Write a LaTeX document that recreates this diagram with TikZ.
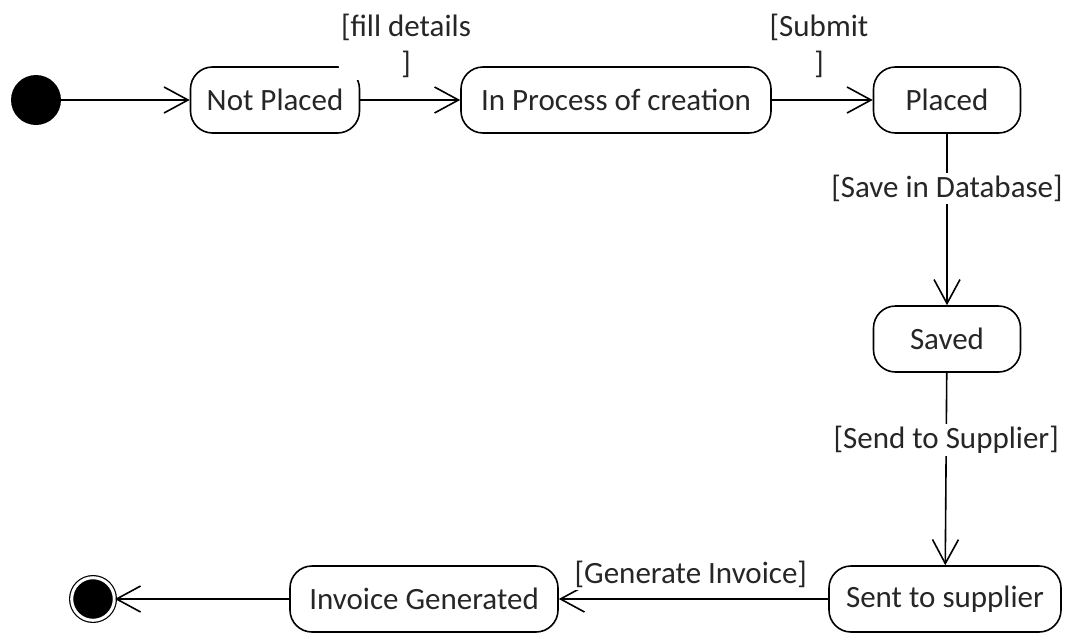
\documentclass[tikz,border=0pt]{standalone}
\usepackage{fontspec}
\setmainfont{Carlito}
\usetikzlibrary{positioning,arrows.meta}

\begin{document}
\begin{tikzpicture}[
        x=1pt, y=-1pt,
        node distance=240pt,
        state/.style={
            rectangle,
            draw=black,
            line width=1.6pt,
            fill=white,
            text=black!85,
            align=center,
            rounded corners=22pt,
            minimum height=66pt,
            font=\fontsize{31}{37}\selectfont
        },
        guard/.style={
            fill=white,
            text=black!85,
            inner sep=2pt,
            align=center,
            font=\fontsize{31}{37}\selectfont
        },
        arrow/.style={
            -{Straight Barb[length=24pt,width=26pt]},
            line width=1.6pt
        }
    ]
        \useasboundingbox (0,0) rectangle (1073,632);
        \node (init) [circle, fill=black, minimum size=50pt, inner sep=0pt] at (36,100) {};
        \node (notplaced) [state, minimum width=169pt, right of=init, node distance=239pt] {Not Placed};
        \node (filllbl) [guard] at (406,46) {[fill details\\]};
        \node (submitlbl) [guard] at (819,46) {[Submit\\]};
        \node (process) [state, minimum width=310pt, right of=notplaced, node distance=341pt] {In Process of creation};
        \node (placed) [state, minimum width=147pt, right of=process, node distance=331pt] {Placed};
        \node (saved) [state, minimum width=147pt, below of=placed, node distance=239pt] {Saved};
        \node (sent) [state, minimum width=232pt, below of=saved, node distance=260pt, xshift=-2pt] {Sent to supplier};
        \node (invoice) [state, minimum width=268pt, left of=sent, node distance=521pt] {Invoice Generated};
        \node (final) [circle, draw=black, line width=1.2pt, double=white, double distance=3pt,
                       fill=black, minimum size=42.6pt, inner sep=0pt, left of=invoice, node distance=331pt] {};

        \draw[arrow] (init) -- (notplaced);
        \draw[arrow] (notplaced) -- (process);
        \draw[arrow] (process) -- (placed);
        \draw[arrow] (placed) -- node[guard, pos=0.32] {[Save in Database]} (saved);
        \draw[arrow] (saved) -- node[guard, pos=0.35] {[Send to Supplier]} (sent);
        \draw[arrow] (sent) -- node[guard, above, pos=0.51, yshift=8pt] {[Generate Invoice]} (invoice);
        \draw[arrow] (invoice) -- (final);
    \end{tikzpicture}
\end{document}
